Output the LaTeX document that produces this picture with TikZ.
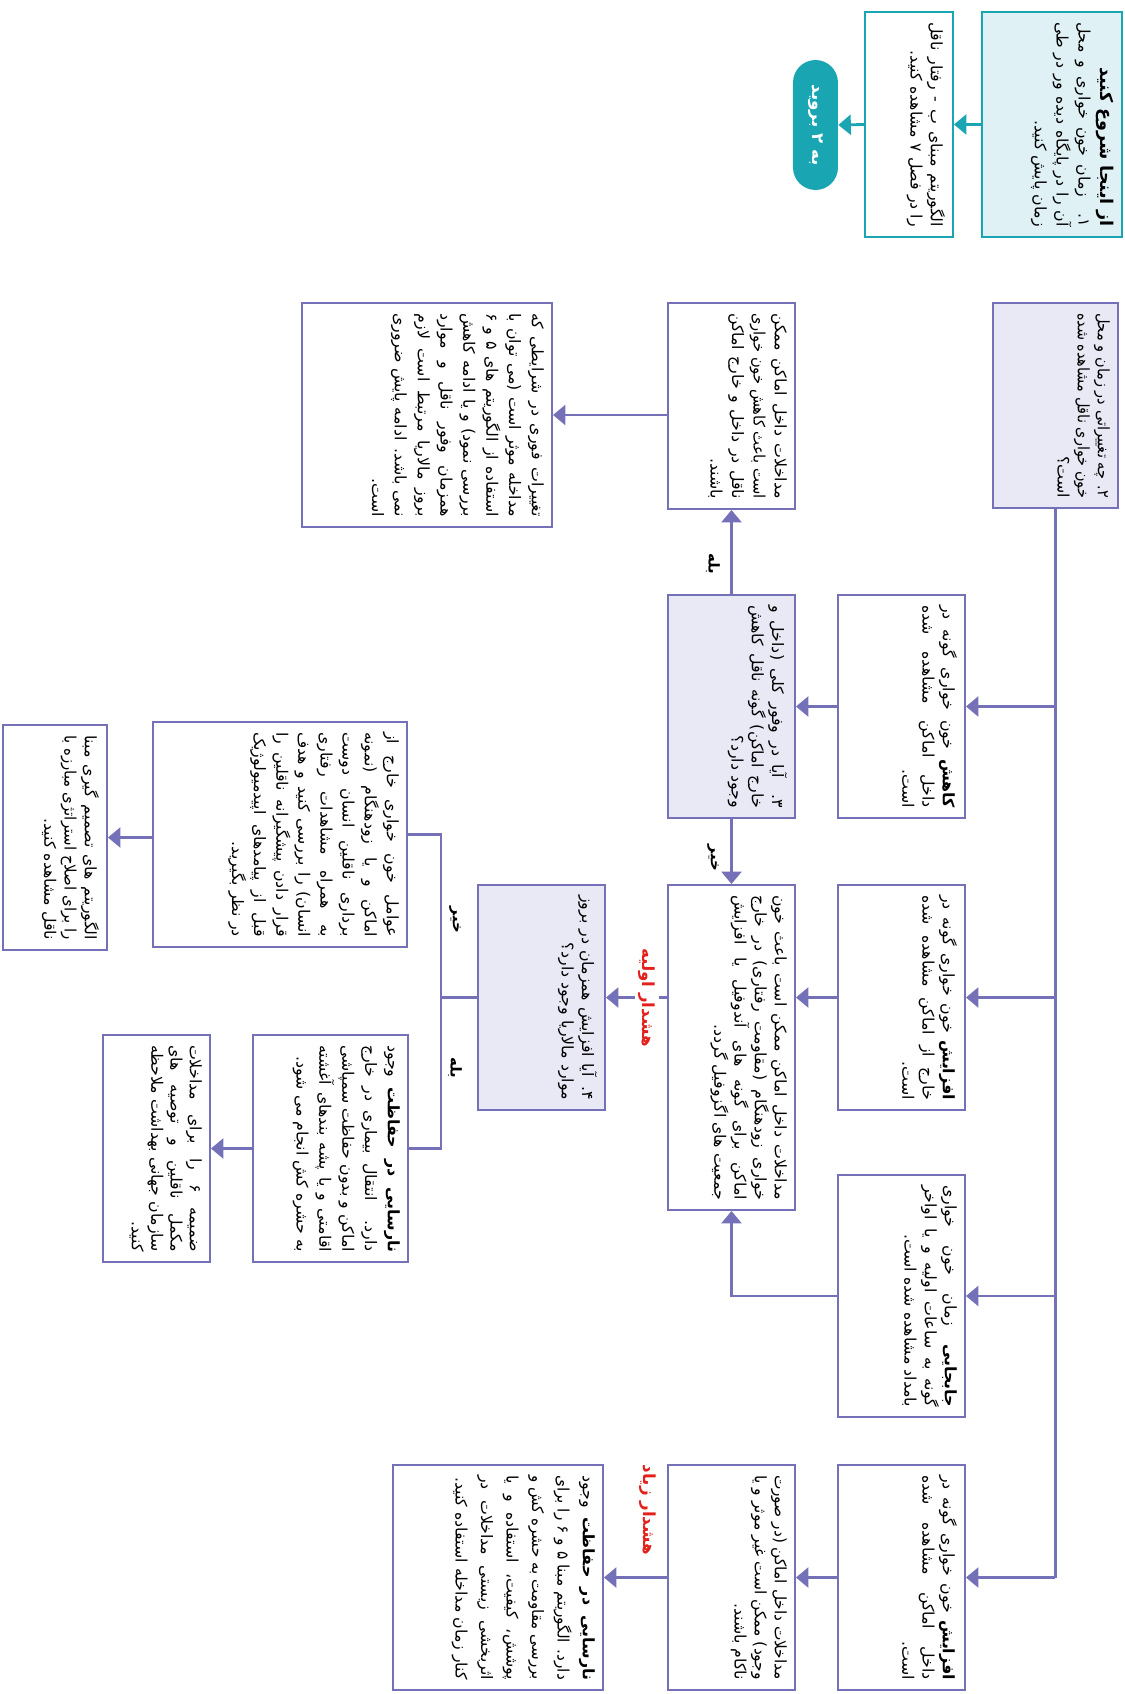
\documentclass[tikz,border=0pt]{standalone}
\usepackage{fontspec}
\usetikzlibrary{arrows.meta,calc,positioning}
\newfontfamily\fa[Script=Arabic]{DejaVu Sans}
\TeXXeTstate=1
\definecolor{purp}{HTML}{7471B8}
\definecolor{purppale}{HTML}{E9E9F5}
\definecolor{sea}{HTML}{1AA5B3}
\definecolor{seapale}{HTML}{DFF1F5}
\definecolor{warn}{HTML}{E3211C}
% right-to-left text: a label (rl), a full line (jl), the last line of a box (el)
\newcommand{\rl}[1]{\beginR #1\endR}
\newcommand{\jl}[1]{\leavevmode\setbox0\hbox{\beginR #1\endR}\ifdim\wd0>\linewidth\resizebox{\linewidth}{\height}{\box0}\else\hbox to\linewidth{\beginR #1\endR}\fi}
\newcommand{\el}[1]{\leavevmode\setbox0\hbox{\beginR #1\endR}\ifdim\wd0>\linewidth\resizebox{\linewidth}{\height}{\box0}\else\box0\fi}
% box text: width and height in px of the reference, text hung from the top right
\newcommand{\fabox}[4][11.5]{\begin{minipage}[c][\dimexpr0.02cm*#3-0.32cm\relax][t]{\dimexpr0.02cm*#2-0.4cm\relax}\fa\fontsize{9}{#1}\selectfont\raggedleft #4\end{minipage}}

\begin{document}
\begin{tikzpicture}[x=0.02cm,y=0.02cm,>=Stealth,
  box/.style={draw=purp,line width=1.1pt,fill=white,inner xsep=0.2cm,inner ysep=0.16cm},
  qbox/.style={box,fill=purppale},
  sbox/.style={box,draw=sea},
  line/.style={draw=purp,line width=1.6pt},
  arr/.style={line,-{Triangle[length=0.25cm,width=0.4cm]}},
  sarr/.style={arr,draw=sea},
  lbl/.style={font=\fa\bfseries\fontsize{8.5}{10}\selectfont,inner sep=1pt},
  warnlbl/.style={font=\fa\bfseries\fontsize{9.5}{11}\selectfont,text=warn,fill=white,inner sep=2pt}]
% drawn lying on its side, then turned a quarter
\begin{scope}[rotate=-90,transform shape]
\useasboundingbox (0,0) rectangle (1694,-1125);
% start
\node[sbox,fill=seapale] (start) at (124.5,-73) {\fabox[12.5]{225}{140}{\el{{\fontsize{10}{11}\bfseries از اینجا شروع کنید}}\\\jl{۱. زمان خون خواری و محل}\\\jl{آن را در پایگاه دیده ور در طی}\\\el{زمان پایش کنید.}}};
\node[sbox] (box2) at (124.5,-216) {\fabox{225}{88}{\jl{الگوریتم مبنای ب - رفتار ناقل}\\\el{را در فصل ۷ مشاهده کنید.}}};
\node[fill=sea,rounded corners=0.45cm,minimum width=2.6cm,minimum height=0.9cm,text=white,font=\fa\bfseries\fontsize{9.5}{11}\selectfont] (goto) at (125,-309.5) {\rl{به ۲ بروید}};
\draw[sarr] (start.south) -- (box2.north);
\draw[sarr] (box2.south) -- (goto.north);
% question 2 and its four answers
\node[qbox] (q2) at (405.5,-69.5) {\fabox{205}{125}{\jl{۲. چه تغییراتی در زمان و محل}\\\jl{خون خواری ناقل مشاهده شده}\\\el{است؟}}};
\node[box] (kahesh) at (706.5,-223.5) {\fabox{223}{127}{\jl{\textbf{کاهش} خون خواری گونه در}\\\jl{داخل اماکن مشاهده شده}\\\el{است.}}};
\node[box] (kharej) at (997.5,-223.5) {\fabox{225}{127}{\jl{\textbf{افزایش} خون خواری گونه در}\\\jl{خارج از اماکن مشاهده شده}\\\el{است.}}};
\node[box] (jabe) at (1296,-223.5) {\fabox{242}{127}{\jl{\textbf{جابجایی} زمان خون خواری}\\\jl{گونه به ساعات اولیه و یا اواخر}\\\el{بامداد مشاهده شده است.}}};
\node[box] (dakhel) at (1577.5,-223.5) {\fabox{225}{127}{\jl{\textbf{افزایش} خون خواری گونه در}\\\jl{داخل اماکن مشاهده شده}\\\el{است.}}};
\draw[line] (q2.east) -- (q2.east -| dakhel.north);
\foreach \b in {kahesh,kharej,jabe,dakhel} \draw[arr] (q2.east -| \b.north) -- (\b.north);
% second row
\node[box] (midtop) at (406,-393.5) {\fabox[12.2]{206}{127}{\jl{مداخلات داخل اماکن ممکن}\\\jl{است باعث کاهش خون خواری}\\\jl{ناقل در داخل و خارج اماکن}\\\el{باشند.}}};
\node[qbox] (q3) at (706.5,-393.5) {\fabox{223}{127}{\jl{۳. آیا در وفور کلی (داخل و}\\\jl{خارج اماکن) گونه ناقل کاهش}\\\el{وجود دارد؟}}};
\node[box] (tall) at (1047.5,-393.5) {\fabox{325}{127}{\jl{مداخلات داخل اماکن ممکن است باعث خون}\\\jl{خواری زودهنگام (مقاومت رفتاری) در خارج}\\\jl{اماکن برای گونه های آندوفیل یا افزایش}\\\el{جمعیت های اگزوفیل گردد.}}};
\node[box] (mod4) at (1577.5,-393.5) {\fabox{225}{127}{\jl{مداخلات داخل اماکن (در صورت}\\\jl{وجود) ممکن است غیر موثر و یا}\\\el{ناکام باشند.}}};
\draw[arr] (kahesh.south) -- (q3.north);
\draw[arr] (kharej.south) -- (kharej.south |- tall.north);
\draw[arr] (jabe.south) |- (tall.east);
\draw[arr] (dakhel.south) -- (mod4.north);
\draw[arr] (q3.west) -- (midtop.east);
\draw[arr] (q3.east) -- (tall.west);
\node[lbl] (yes1) at (564,-412) {\rl{بله}};
\node[lbl] (no1) at (858,-412) {\rl{خیر}};
% third row
\node[box] (taghir) at (415,-698) {\fabox[13]{224}{250}{\jl{تغییرات فوری در شرایطی که}\\\jl{مداخله موثر است (می توان با}\\\jl{استفاده از الگوریتم های ۵ و ۶}\\\jl{بررسی نمود) و یا ادامه کاهش}\\\jl{همزمان وفور ناقل و موارد}\\\jl{بروز مالاریا مرتبط است لازم}\\\jl{نمی باشد. ادامه پایش ضروری}\\\el{است.}}};
\node[qbox] (q4) at (997.5,-583.5) {\fabox{225}{127}{\jl{۴. آیا افزایش همزمان در بروز}\\\el{موارد مالاریا وجود دارد؟}}};
\node[box] (nar4) at (1577.5,-627) {\fabox[14.5]{225}{210}{\jl{\textbf{نارسایی در حفاظت} وجود}\\\jl{دارد. الگوریتم مبنا ۵ و ۶ را برای}\\\jl{بررسی مقاومت به حشره کش و}\\\jl{پوشش، کیفیت، استفاده و یا}\\\jl{اثربخشی زیستی مداخلات در}\\\el{کنار زمان مداخله استفاده کنید.}}};
\draw[arr] (midtop.south -| taghir.north) -- (taghir.north);
\draw[arr] (tall.south -| q4.north) -- (q4.north);
\node[warnlbl] (warn1) at (997.5,-478) {\rl{هشدار اولیه}};
\draw[arr] (mod4.south) -- (nar4.north);
\node[warnlbl] (warn2) at (1510,-477) {\rl{هشدار زیاد}};
% answers to question 4
\node[box] (avamel) at (834.5,-845) {\fabox[12.6]{225}{254}{\jl{عوامل خون خواری خارج از}\\\jl{اماکن و یا زودهنگام (نمونه}\\\jl{برداری ناقلین انسان دوست}\\\jl{به همراه مشاهدات رفتاری}\\\jl{انسان) را بررسی کنید و هدف}\\\jl{قرار دادن پیشگیرانه ناقلین را}\\\jl{قبل از پیامدهای اپیدمیولوژیک}\\\el{در نظر بگیرید.}}};
\node[box] (naras) at (1148.5,-794.5) {\fabox[13]{227}{155}{\jl{\textbf{نارسایی در حفاظت} وجود}\\\jl{دارد. انتقال بیماری در خارج}\\\jl{اماکن و بدون حفاظت سمپاشی}\\\jl{اقامتی و یا پشه بندهای آغشته}\\\el{به حشره کش انجام می شود.}}};
\coordinate (split) at (997.5,-684);
\draw[line] (q4.south) -- (split);
\draw[line] (split) -| (avamel.north);
\draw[line] (split) -| (naras.north);
\node[lbl] (no2) at (920,-670) {\rl{خیر}};
\node[lbl] (yes2) at (1068,-670) {\rl{بله}};
\node[box] (algo) at (837.5,-1070) {\fabox{225}{104}{\jl{الگوریتم های تصمیم گیری مبنا}\\\jl{را برای اصلاح استراتژی مبارزه با}\\\el{ناقل مشاهده کنید.}}};
\node[box] (zamime) at (1148.5,-968.5) {\fabox[11]{227}{107}{\jl{ضمیمه ۶ را برای مداخلات}\\\jl{مکمل ناقلین و توصیه های}\\\jl{سازمان جهانی بهداشت ملاحظه}\\\el{کنید.}}};
\draw[arr] (avamel.south -| algo.north) -- (algo.north);
\draw[arr] (naras.south) -- (zamime.north);
\end{scope}
\end{tikzpicture}
\end{document}
